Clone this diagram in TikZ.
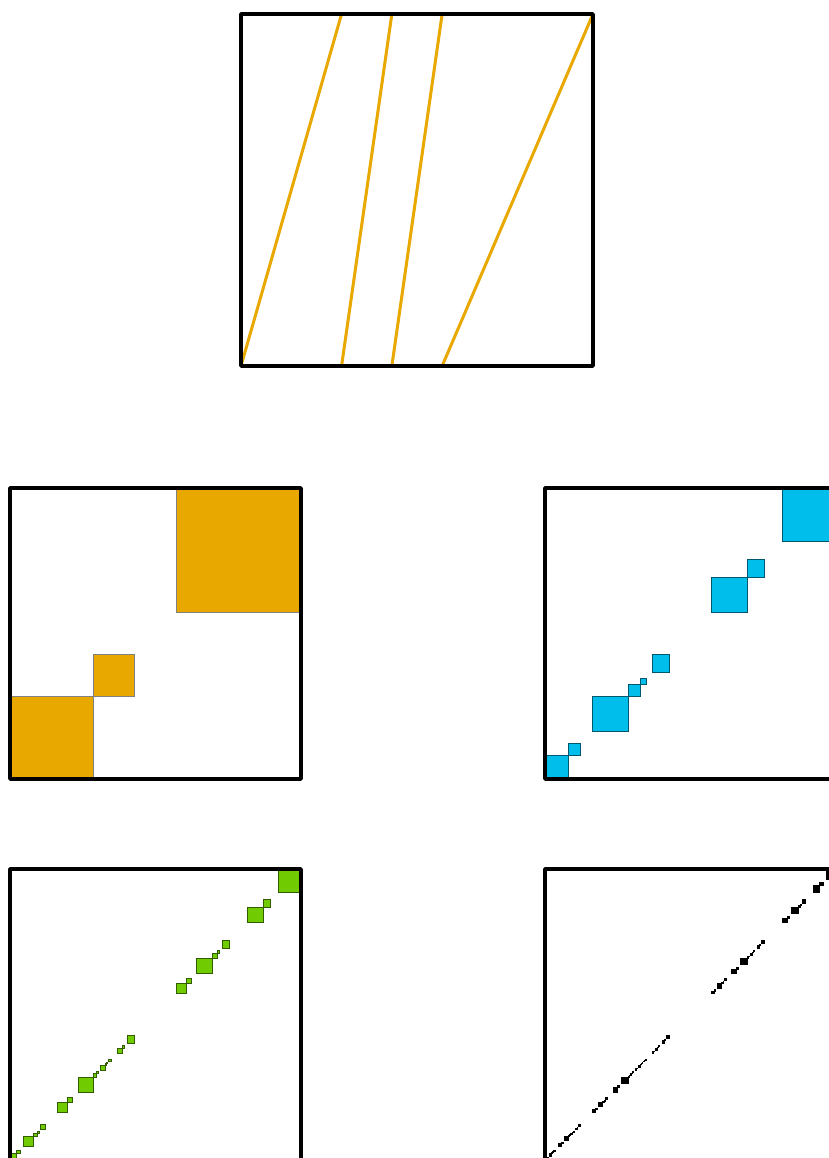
\documentclass[tikz,border=0pt]{standalone}
\usepackage{tikz}
\usepackage{xcolor}
\definecolor{mapline}{HTML}{E9A800}
\definecolor{levelone}{HTML}{E9A800}
\definecolor{leveltwo}{HTML}{00BEEC}
\definecolor{levelthree}{HTML}{70CC00}

% allowed branches: start/length in units of 1/7
\def\cells{0/2,2/1,4/3}

\begin{document}
\begin{tikzpicture}[
  frame/.style={draw=black, line width=3.8pt, line cap=round, line join=round},
  branch/.style={draw=mapline, line width=3pt},
  cell/.style={line width=0.6pt},
  cellone/.style={cell, fill=levelone, draw=gray},
  celltwo/.style={cell, fill=leveltwo, draw=leveltwo!45!black},
  cellthree/.style={cell, fill=levelthree, draw=levelthree!45!black},
  cellfour/.style={cell, fill=black, draw=black}
]
  \path[use as bounding box] (0,0) rectangle (829pt,1158pt);
  \clip (0,0) rectangle (829pt,1158pt);

  % the map
  \begin{scope}[shift={(241pt,792pt)}, x=352pt, y=352pt]
    \draw[branch] (0,0) -- (2/7,1);
    \draw[branch] (2/7,0) -- (3/7,1);
    \draw[branch] (3/7,0) -- (4/7,1);
    \draw[branch] (4/7,0) -- (1,1);
    \draw[frame] (0,0) rectangle (1,1);
  \end{scope}

  % level 1
  \begin{scope}[shift={(10pt,379pt)}, x=291pt, y=291pt]
    \foreach \pa/\la in \cells {
      \path[cellone] (\pa/7,\pa/7) rectangle ++(\la/7,\la/7);
    }
    \draw[frame] (0,0) rectangle (1,1);
  \end{scope}

  % level 2
  \begin{scope}[shift={(545pt,379pt)}, x=291pt, y=291pt]
    \foreach \pa/\la in \cells {
      \foreach \pb/\lb in \cells {
        \pgfmathsetmacro\st{(\pa+\la*\pb/7)/7}
        \pgfmathsetmacro\wd{\la*\lb/49}
        \path[celltwo] (\st,\st) rectangle ++(\wd,\wd);
      }
    }
    \draw[frame] (0,0) rectangle (1,1);
  \end{scope}

  % level 3
  \begin{scope}[shift={(10pt,-2pt)}, x=291pt, y=291pt]
    \foreach \pa/\la in \cells {
      \foreach \pb/\lb in \cells {
        \foreach \pc/\lc in \cells {
          \pgfmathsetmacro\st{(\pa+\la*(\pb+\lb*\pc/7)/7)/7}
          \pgfmathsetmacro\wd{\la*\lb*\lc/343}
          \path[cellthree] (\st,\st) rectangle ++(\wd,\wd);
        }
      }
    }
    \draw[frame] (0,0) rectangle (1,1);
  \end{scope}

  % level 4
  \begin{scope}[shift={(545pt,-2pt)}, x=291pt, y=291pt]
    \foreach \pa/\la in \cells {
      \foreach \pb/\lb in \cells {
        \foreach \pc/\lc in \cells {
          \foreach \pd/\ld in \cells {
            \pgfmathsetmacro\st{(\pa+\la*(\pb+\lb*(\pc+\lc*\pd/7)/7)/7)/7}
            \pgfmathsetmacro\wd{\la*\lb*\lc*\ld/2401}
            \path[cellfour] (\st,\st) rectangle ++(\wd,\wd);
          }
        }
      }
    }
    \draw[frame] (0,0) rectangle (1,1);
  \end{scope}
\end{tikzpicture}
\end{document}
